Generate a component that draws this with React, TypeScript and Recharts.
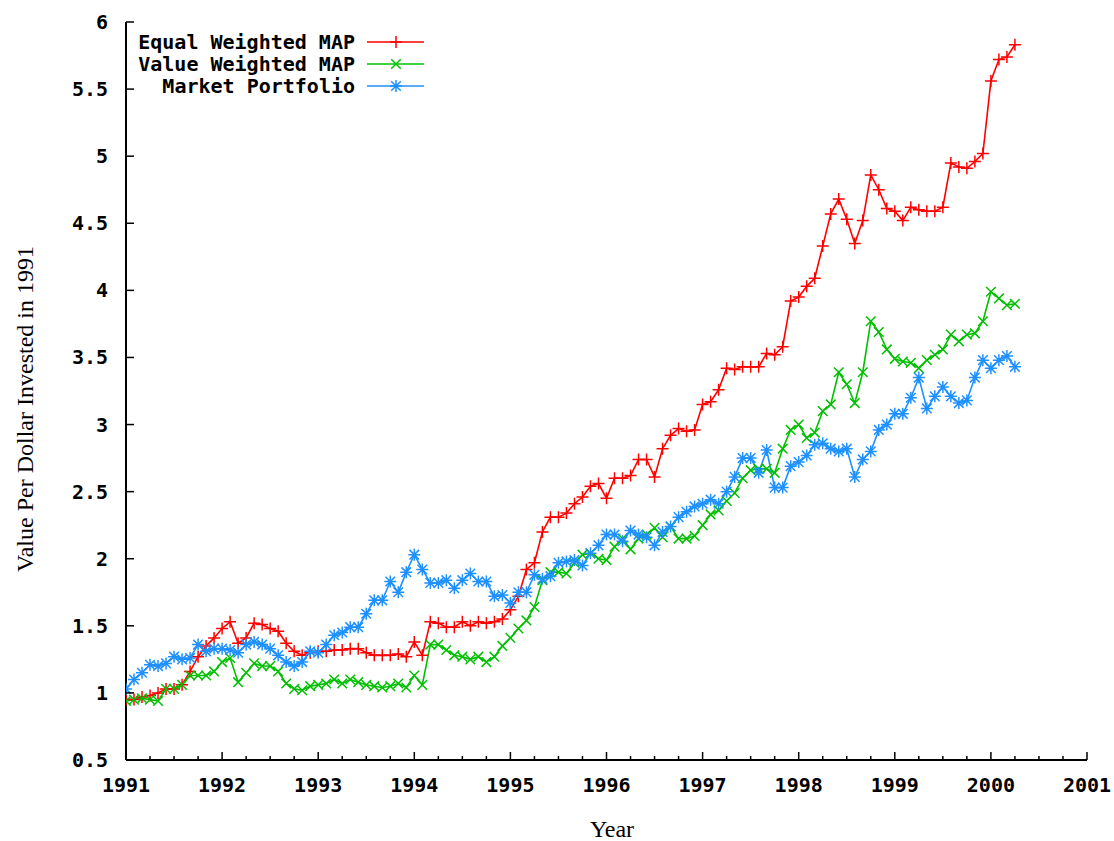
import React from 'react';
import { LineChart, Line, XAxis, YAxis, Legend } from 'recharts';

// monthly observations, starting January 1991
const START_YEAR = 1991;
const yearTicks = [1991, 1992, 1993, 1994, 1995, 1996, 1997, 1998, 1999, 2000, 2001];
const valueTicks = [0.5, 1, 1.5, 2, 2.5, 3, 3.5, 4, 4.5, 5, 5.5, 6];

const equalWeighted = [
  0.95, 0.95, 0.97, 0.98, 1.0, 1.03, 1.03, 1.06, 1.16, 1.27, 1.35, 1.41,
  1.48, 1.53, 1.37, 1.41, 1.52, 1.51, 1.48, 1.46, 1.37, 1.31, 1.28, 1.3,
  1.31, 1.31, 1.32, 1.32, 1.33, 1.33, 1.3, 1.28, 1.28, 1.28, 1.29, 1.27,
  1.38, 1.28, 1.53, 1.52, 1.49, 1.49, 1.53, 1.5, 1.53, 1.52, 1.53, 1.55,
  1.62, 1.72, 1.92, 1.97, 2.2, 2.31, 2.31, 2.34, 2.41, 2.46, 2.54, 2.56,
  2.45, 2.6, 2.6, 2.62, 2.74, 2.74, 2.61, 2.82, 2.92, 2.97, 2.95, 2.96,
  3.15, 3.17, 3.26, 3.42, 3.41, 3.43, 3.43, 3.43, 3.53, 3.52, 3.58, 3.92,
  3.95, 4.03, 4.09, 4.33, 4.57, 4.68, 4.53, 4.35, 4.52, 4.86, 4.75, 4.61,
  4.59, 4.52, 4.62, 4.6, 4.59, 4.59, 4.62, 4.95, 4.92, 4.91, 4.96, 5.02,
  5.56, 5.72, 5.74, 5.83,
];

const valueWeighted = [
  0.94, 0.95, 0.96, 0.95, 0.94, 1.03, 1.03, 1.06, 1.13, 1.13, 1.13, 1.16,
  1.23, 1.26, 1.08, 1.15, 1.22, 1.2, 1.2, 1.16, 1.07, 1.03, 1.02, 1.05,
  1.06, 1.07, 1.1, 1.07, 1.1, 1.08, 1.06, 1.05, 1.04, 1.05, 1.07, 1.04,
  1.13, 1.06, 1.36, 1.36, 1.32, 1.28, 1.27, 1.25, 1.27, 1.23, 1.27, 1.35,
  1.41, 1.48, 1.54, 1.64, 1.84, 1.9, 1.9, 1.89, 1.97, 2.03, 2.04, 2.0,
  1.99, 2.09, 2.15, 2.07, 2.15, 2.18, 2.23, 2.16, 2.24, 2.15, 2.15, 2.17,
  2.25, 2.33, 2.36, 2.43, 2.49, 2.6, 2.66, 2.67, 2.67, 2.64, 2.82, 2.96,
  3.0, 2.9, 2.94, 3.1, 3.15, 3.39, 3.3, 3.16, 3.39, 3.77, 3.69, 3.56,
  3.49, 3.47, 3.46, 3.42, 3.48, 3.52, 3.56, 3.67, 3.62, 3.67, 3.68, 3.77,
  3.99, 3.94, 3.89, 3.9,
];

const marketPortfolio = [
  1.03, 1.1, 1.15, 1.21, 1.2, 1.22, 1.27, 1.25, 1.26, 1.36, 1.31, 1.33,
  1.33, 1.32, 1.3, 1.36, 1.38, 1.36, 1.33, 1.28, 1.23, 1.2, 1.23, 1.31,
  1.3, 1.36, 1.43, 1.45, 1.49, 1.49, 1.59, 1.69, 1.69, 1.83, 1.75, 1.9,
  2.03, 1.92, 1.82, 1.82, 1.84, 1.78, 1.84, 1.89, 1.83, 1.83, 1.72, 1.73,
  1.67, 1.75, 1.75, 1.88, 1.85, 1.87, 1.97, 1.98, 1.99, 1.95, 2.04, 2.1,
  2.18, 2.18, 2.13, 2.21, 2.18, 2.16, 2.1, 2.2, 2.24, 2.31, 2.35, 2.39,
  2.41, 2.44, 2.41, 2.5, 2.61, 2.75, 2.75, 2.64, 2.81, 2.53, 2.53, 2.69,
  2.72, 2.77, 2.85, 2.86, 2.82, 2.8, 2.82, 2.61, 2.74, 2.8, 2.96, 3.0,
  3.08, 3.08, 3.2, 3.35, 3.12, 3.21, 3.28, 3.21, 3.16, 3.18, 3.35, 3.48,
  3.42, 3.48, 3.51, 3.43,
];

const RED = '#ff0000';
const GREEN = '#00c000';
const BLUE = '#1e90ff';
const TICK_FONT = '"DejaVu Sans Mono", monospace';

const data = equalWeighted.map((v, i) => ({
  t: START_YEAR + i / 12,
  equal: v,
  value: valueWeighted[i],
  market: marketPortfolio[i],
}));

// quarterly minor ticks between the years
const quarterTicks: number[] = [];
for (let q = 0; q <= 40; q++) quarterTicks.push(START_YEAR + q / 4);

const isYear = (v: number) => yearTicks.some((yr) => Math.abs(v - yr) < 1e-6);

const markPath = (kind: string, cx: number, cy: number, r = 6) => {
  const plus = `M${cx - r},${cy}H${cx + r}M${cx},${cy - r}V${cy + r}`;
  const d = r * 0.8;
  const cross = `M${cx - d},${cy - d}L${cx + d},${cy + d}M${cx - d},${cy + d}L${cx + d},${cy - d}`;
  if (kind === 'plus') return plus;
  if (kind === 'cross') return cross;
  return plus + cross;
};

const dotFor = (kind: string, color: string) => (p: any) => (
  <path
    key={`${kind}-${p.index}`}
    d={markPath(kind, p.cx, p.cy)}
    stroke={color}
    strokeWidth={1.5}
    fill="none"
  />
);

const BottomTick = (props: any) => {
  const { x, y, payload } = props;
  const major = isYear(payload.value);
  return (
    <g>
      <line x1={x} x2={x} y1={y} y2={y - (major ? 8 : 4)} stroke="#000" strokeWidth={1.5} />
      {major && (
        <text x={x} y={y + 25} textAnchor="middle" dominantBaseline="central"
          fontFamily={TICK_FONT} fontWeight="bold" fontSize={20} fill="#000">
          {payload.value}
        </text>
      )}
    </g>
  );
};

const TopTick = (props: any) => {
  const { x, y, payload } = props;
  const major = isYear(payload.value);
  return <line x1={x} x2={x} y1={y} y2={y + (major ? 8 : 4)} stroke="#000" strokeWidth={1.5} />;
};

const LeftTick = (props: any) => {
  const { x, y, payload } = props;
  return (
    <g>
      <line x1={x} x2={x + 8} y1={y} y2={y} stroke="#000" strokeWidth={1.5} />
      <text x={x - 18} y={y} textAnchor="end" dominantBaseline="central"
        fontFamily={TICK_FONT} fontWeight="bold" fontSize={20} fill="#000">
        {payload.value}
      </text>
    </g>
  );
};

const RightTick = (props: any) => {
  const { x, y } = props;
  return <line x1={x} x2={x - 8} y1={y} y2={y} stroke="#000" strokeWidth={1.5} />;
};

const legendRows = [
  { label: 'Equal Weighted MAP', color: RED, kind: 'plus' },
  { label: 'Value Weighted MAP', color: GREEN, kind: 'cross' },
  { label: 'Market Portfolio', color: BLUE, kind: 'star' },
];

const LegendBox = () => (
  <svg width={320} height={72} style={{ display: 'block' }}>
    {legendRows.map((row, i) => {
      const y = 14 + i * 22;
      return (
        <g key={row.label}>
          <text x={235} y={y} textAnchor="end" dominantBaseline="central"
            fontFamily={TICK_FONT} fontWeight="bold" fontSize={20} fill="#000">
            {row.label}
          </text>
          <line x1={247} x2={304} y1={y} y2={y} stroke={row.color} strokeWidth={1.6} />
          <path d={markPath(row.kind, 276, y)} stroke={row.color} strokeWidth={1.5} fill="none" />
        </g>
      );
    })}
  </svg>
);

const YTitle = () => (
  <text x={25} y={409} transform="rotate(-90 25 409)" textAnchor="middle" dominantBaseline="central"
    fontFamily='"Liberation Serif", serif' fontSize={24} fill="#000">
    Value Per Dollar Invested in 1991
  </text>
);

const XTitle = () => (
  <text x={612} y={829} textAnchor="middle" dominantBaseline="central"
    fontFamily='"Liberation Serif", serif' fontSize={24} fill="#000">
    Year
  </text>
);

export default function App() {
  return (
    <div style={{ position: 'absolute', left: 0, top: 0, width: 1114, height: 841, background: '#fff' }}>
      <LineChart width={1114} height={841} data={data}
        margin={{ top: 22, right: 27, left: 0, bottom: 41 }}>
        <XAxis xAxisId={0} dataKey="t" type="number" domain={[1991, 2001]} allowDataOverflow
          ticks={quarterTicks} interval={0} tick={<BottomTick />} tickLine={false} tickSize={0}
          tickMargin={0} height={40} axisLine={{ stroke: '#000', strokeWidth: 2 }} label={XTitle} />
        <XAxis xAxisId="top" orientation="top" dataKey="t" type="number" domain={[1991, 2001]}
          allowDataOverflow ticks={quarterTicks} interval={0} tick={<TopTick />} tickLine={false}
          tickSize={0} tickMargin={0} height={0} axisLine={{ stroke: '#000', strokeWidth: 2 }} />
        <YAxis yAxisId={0} type="number" domain={[0.5, 6]} allowDataOverflow ticks={valueTicks}
          interval={0} tick={<LeftTick />} tickLine={false} tickSize={0} tickMargin={0} width={126}
          axisLine={{ stroke: '#000', strokeWidth: 2 }} label={YTitle} />
        <YAxis yAxisId="right" orientation="right" type="number" domain={[0.5, 6]} allowDataOverflow
          ticks={valueTicks} interval={0} tick={<RightTick />} tickLine={false} tickSize={0}
          tickMargin={0} width={0} axisLine={{ stroke: '#000', strokeWidth: 2 }} />
        <Legend layout="vertical" align="center" verticalAlign="middle" content={LegendBox}
          wrapperStyle={{ top: 28, left: 120, width: 320, height: 72 }} />
        <Line type="linear" dataKey="equal" name="Equal Weighted MAP" stroke={RED} strokeWidth={1.6}
          dot={dotFor('plus', RED)} activeDot={false} isAnimationActive={false} />
        <Line type="linear" dataKey="value" name="Value Weighted MAP" stroke={GREEN} strokeWidth={1.6}
          dot={dotFor('cross', GREEN)} activeDot={false} isAnimationActive={false} />
        <Line type="linear" dataKey="market" name="Market Portfolio" stroke={BLUE} strokeWidth={1.6}
          dot={dotFor('star', BLUE)} activeDot={false} isAnimationActive={false} />
      </LineChart>
    </div>
  );
}
